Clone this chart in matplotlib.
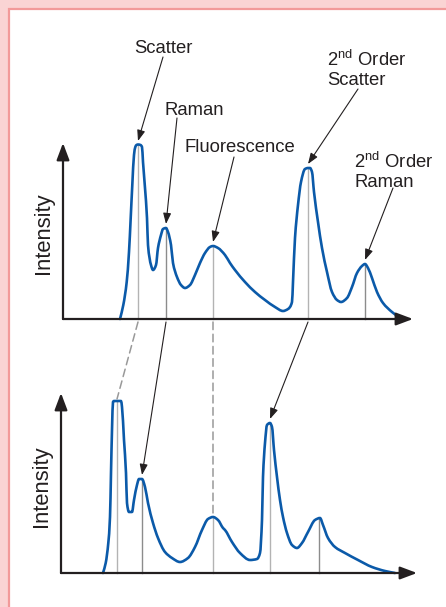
import numpy as np
import matplotlib
matplotlib.use("Agg")
import matplotlib.pyplot as plt
from matplotlib.patches import Rectangle, ConnectionPatch, PathPatch
from matplotlib.path import Path

plt.rcParams["font.family"] = ["Liberation Sans", "DejaVu Sans"]
plt.rcParams["mathtext.fontset"] = "custom"
plt.rcParams["mathtext.rm"] = "Liberation Sans"
plt.rcParams["mathtext.it"] = "Liberation Sans:italic"

# ── spectra: emission position vs. intensity (arbitrary units) ───────────────
top_x = [57, 60.3, 63.7, 66, 67.7, 69.3, 71, 72.3, 73.5, 75, 77.5, 79, 80, 82,
         84, 85, 88, 90, 93, 95, 98, 100, 103, 105, 108, 110, 114, 118, 122,
         127, 132, 137, 142, 147, 150, 155, 162, 167, 172, 182, 192, 202, 212,
         220, 225, 229, 230, 232, 235, 238, 242, 245, 247, 249, 251, 255, 259,
         264, 269, 274, 278, 284, 289, 294, 299, 302, 305, 309, 314, 320, 329, 337]
top_y = [0, 14, 37, 67, 101, 134, 164, 172, 174, 174.5, 174, 172, 157, 131,
         101, 74, 54, 49, 54, 71, 84, 90, 91, 87, 74, 56, 42, 34, 31,
         34, 44, 56, 66, 72, 73, 71, 64, 56, 49, 37, 27, 19, 12,
         8, 10, 17, 37, 81, 114, 137, 150, 151, 151, 147, 127, 97, 71,
         47, 27, 19, 17, 21, 32, 46, 53, 55, 51, 41, 27, 16, 7, 1]

bot_x = [42, 44.7, 47.3, 49, 50, 51, 52, 53, 56, 60, 61, 63, 65, 66, 68, 71,
         73, 76, 78, 81, 84, 87, 92, 97, 104, 111, 119, 127, 134, 141, 147,
         152, 157, 162, 164, 171, 179, 189, 196, 199, 201, 202, 204, 206, 209,
         211, 213, 216, 219, 222, 226, 231, 236, 241, 247, 254, 259, 262, 267,
         274, 284, 297, 311, 324, 334]
bot_y = [0, 10, 30, 56, 100, 143, 171, 172, 172, 172, 166, 133, 100, 70, 61,
         61, 73, 88, 94, 94, 86, 70, 50, 35, 21, 15, 11, 15, 26, 43, 54,
         56, 53, 45, 43, 31, 20, 13, 14, 20, 53, 96, 130, 148, 150,
         146, 123, 96, 73, 56, 40, 28, 25, 30, 41, 53, 55, 48, 35,
         26, 20, 13, 6, 2, 0]

# band centres in each spectrum
band_labels = [["Scatter"], ["Raman"], ["Fluorescence"],
               ["2$^{\\mathrm{nd}}$ Order", "Scatter"],
               ["2$^{\\mathrm{nd}}$ Order", "Raman"]]
top_peak_x = [75, 103, 150, 245, 302]
top_peak_y = [174, 91, 73, 151, 55]
bot_peak_x = [56, 81, 152, 209, 258]
bot_peak_y = [172, 94, 56, 150, 55]

# ── styling ──────────────────────────────────────────────────────────────────
BLUE = "#0b5aa9"
INK = "#231f20"
GREY = "#b3b3b3"
GREY_DARK = "#8c8c8c"
W, H = 446, 607


def trace_path(xs, ys):
    """Bezier path through the points, monotone tangents (no overshoot)."""
    x = np.asarray(xs, float)
    y = np.asarray(ys, float)
    h = np.diff(x)
    d = np.diff(y) / h
    m = np.zeros_like(y)
    m[0], m[-1] = d[0], d[-1]
    for i in range(1, len(x) - 1):
        if d[i - 1] * d[i] > 0:
            w1, w2 = 2 * h[i] + h[i - 1], h[i] + 2 * h[i - 1]
            m[i] = (w1 + w2) / (w1 / d[i - 1] + w2 / d[i])
    verts = [(x[0], y[0])]
    codes = [Path.MOVETO]
    for i in range(len(x) - 1):
        verts += [(x[i] + h[i] / 3, y[i] + m[i] * h[i] / 3),
                  (x[i + 1] - h[i] / 3, y[i + 1] - m[i + 1] * h[i] / 3),
                  (x[i + 1], y[i + 1])]
        codes += [Path.CURVE4] * 3
    return Path(verts, codes)


fig = plt.figure(figsize=(W / 100, H / 100), dpi=100, facecolor="#fad4d4")
fig.patches.append(Rectangle((8.5 / W, -0.1), 1.2, (H - 8.5) / H + 0.1,
                             transform=fig.transFigure, facecolor="white",
                             edgecolor="#f29a9a", lw=1.6, zorder=-10))

ax_top = fig.add_axes([63 / W, (H - 319) / H, 350 / W, 176 / H])
ax_bot = fig.add_axes([61 / W, (H - 573) / H, 356 / W, 180 / H])
ax_top.set_xlim(0, 350); ax_top.set_ylim(0, 176)
ax_bot.set_xlim(0, 356); ax_bot.set_ylim(0, 180)


def draw_panel(ax, xs, ys, peak_x, peak_y, dark):
    ax.set_facecolor("none")
    for s in ax.spines.values():
        s.set_visible(False)
    ax.set_xticks([]); ax.set_yticks([])
    # drop lines under each band
    for i, (px, py) in enumerate(zip(peak_x, peak_y)):
        ax.plot([px, px], [0, py], color=GREY_DARK if i in dark else GREY,
                lw=1.0, zorder=1, clip_on=False)
    ax.add_patch(PathPatch(trace_path(xs, ys), facecolor="none", edgecolor=BLUE,
                           lw=1.9, joinstyle="round", capstyle="round",
                           zorder=3, clip_on=False))
    # arrowed axes
    for end in [(1, 0), (0, 1)]:
        ax.annotate("", xy=end, xytext=(0, 0), xycoords="axes fraction",
                    arrowprops=dict(arrowstyle="-|>,head_length=0.85,head_width=0.32",
                                    mutation_scale=12, lw=1.6, color=INK,
                                    shrinkA=0, shrinkB=0), zorder=4)
    ax.text(-0.055, 0.485, "Intensity", rotation=90, ha="center", va="center",
            fontsize=15.8, color=INK, transform=ax.transAxes)


draw_panel(ax_top, top_x, top_y, top_peak_x, top_peak_y, dark=[1, 4])
draw_panel(ax_bot, bot_x, bot_y, bot_peak_x, bot_peak_y, dark=[1, 4])

# band labels with leader arrows (top spectrum coordinates)
label_at = [(100, 266, "center"), (131, 204, "center"), (176.5, 167, "center"),
            (264, 253, "left"), (291, 151, "left")]
leader_from = [(100, 262), (114, 201), (171, 162), (295, 230), (330, 131)]
for lines, (tx, ty, ha), start, px, py in zip(band_labels, label_at, leader_from,
                                               top_peak_x, top_peak_y):
    for k, line in enumerate(lines):
        ax_top.text(tx, ty - 19 * k, line, ha=ha, va="baseline",
                    fontsize=13.3, color=INK, clip_on=False)
    ax_top.annotate("", xy=(px, py + 4), xytext=start, annotation_clip=False,
                    arrowprops=dict(arrowstyle="-|>,head_length=0.65,head_width=0.24",
                                    mutation_scale=10, lw=0.8, color=INK,
                                    shrinkA=0, shrinkB=0))

# links between matching bands in the two spectra
link_style = ["dashed", "arrow", "dashed", "arrow"]
for i, style in enumerate(link_style):
    gap = 2 if style == "dashed" else 4
    kw = dict(coordsA="data", coordsB="data", axesA=ax_top, axesB=ax_bot,
              xyA=(top_peak_x[i], -3), xyB=(bot_peak_x[i], bot_peak_y[i] + gap),
              shrinkA=0, shrinkB=0)
    if style == "dashed":
        con = ConnectionPatch(color="#999999", lw=1.1, linestyle=(0, (5, 3)), **kw)
    else:
        con = ConnectionPatch(color=INK, lw=0.8, mutation_scale=10,
                              arrowstyle="-|>,head_length=0.65,head_width=0.24", **kw)
    con.set_annotation_clip(False)
    fig.add_artist(con)

fig.savefig("out.png", dpi=100, facecolor=fig.get_facecolor())
